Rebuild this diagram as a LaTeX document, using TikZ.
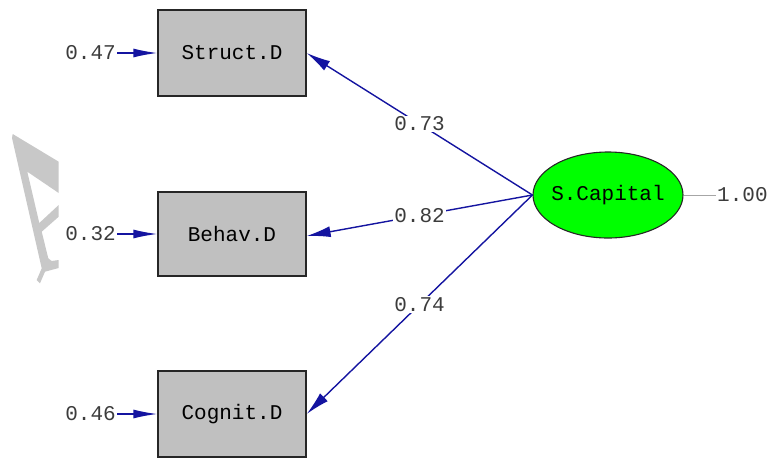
\documentclass[tikz,border=0pt]{standalone}
\usepackage{fontspec}
\setmonofont{Liberation Mono}
\usepackage{tikz}
\usetikzlibrary{arrows.meta,shapes.geometric}

\definecolor{pathblue}{RGB}{20,20,160}
\definecolor{boxgray}{RGB}{192,192,192}
\definecolor{markgray}{RGB}{200,200,200}
\definecolor{txtgray}{RGB}{60,60,60}

\tikzset{
    obsbox/.style={draw=black!85, line width=1.3pt, fill=boxgray,
        minimum width=148pt, minimum height=86pt},
    latbox/.style={ellipse, draw=black!85, line width=1.1pt, fill=green,
        inner sep=0pt, minimum width=150pt, minimum height=86pt},
    coef/.style={text=txtgray, fill=white, inner sep=1pt},
    load/.style={draw=pathblue, line width=1.4pt, -{Latex[length=24pt,width=11pt]}},
    err/.style={draw=pathblue, line width=1.4pt, -{Latex[length=24pt,width=9pt]}}
}

\begin{document}
\begin{tikzpicture}[x=1pt, y=-1pt, font=\ttfamily\fontsize{21}{25}\selectfont]
    \useasboundingbox (0,0) rectangle (776,464);

    % watermark
    \fill[markgray] (12.7,134) -- (58.7,161.7) -- (58.7,193) -- (27.3,171.7)
        -- (39.3,223) -- (58.7,205) -- (58.7,216.7) -- (41.7,231.7) -- (48.3,258.3)
        -- (51.7,261) -- (58.7,260) -- (58.7,268) -- (45,271.7) -- (40,283.3)
        -- (36.7,280) -- (41.7,268.3) -- (12,138) -- cycle;

    \node[obsbox] (struct) at (232,53) {Struct.D};
    \node[obsbox, minimum height=84pt] (behav) at (232,234) {Behav.D};
    \node[obsbox] (cognit) at (232,414) {Cognit.D};

    \node[latbox] (cap) at (608,195) {\makebox[90pt]{S.Capital}};

    \node[coef, anchor=east] (e1) at (117,53) {0.47};
    \node[coef, anchor=east] (e2) at (117,234) {0.32};
    \node[coef, anchor=east] (e3) at (117,414) {0.46};
    \node[coef, anchor=west] (v) at (716,195) {1.00};

    \draw[err] (e1) -- (struct);
    \draw[err] (e2) -- (behav);
    \draw[err] (e3) -- (cognit);
    \draw[black!35, line width=0.8pt] (cap) -- (v);

    \draw[load] (cap.west) -- (struct.east) node[coef, midway] {0.73};
    \draw[load] (cap.west) -- ([yshift=-2pt]behav.east) node[coef, midway] {0.82};
    \draw[load] (cap.west) -- (cognit.east) node[coef, midway] {0.74};
\end{tikzpicture}
\end{document}
